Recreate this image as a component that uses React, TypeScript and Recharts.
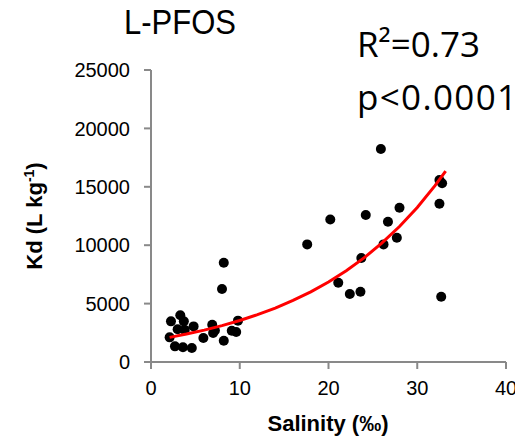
import React from "react";
import { ScatterChart, Scatter, XAxis, YAxis } from "recharts";

const salinity = [
  2.1, 2.25, 2.7, 3.0, 3.3, 3.6, 3.7, 3.8, 4.6, 4.8, 5.9, 6.9, 7.0, 7.2, 8.0, 8.2, 8.2, 9.1, 9.6, 9.8,
  17.6, 20.2, 21.1, 22.4, 23.6, 23.7, 24.2, 25.9, 26.2, 26.7, 27.7, 28.0, 32.5, 32.8, 32.5, 32.7,
];
const kd = [
  2110, 3480, 1340, 2800, 4000, 1260, 3480, 2750, 1200, 3050, 2050, 3190, 2480, 2700, 6250, 8500, 1820, 2680, 2570, 3540,
  10070, 12200, 6790, 5820, 6020, 8900, 12590, 18236, 10070, 12010, 10640, 13210, 15580, 15300, 13550, 5590,
];

const fitX = [2.1, 4, 6, 8, 10, 12, 14, 16, 18, 20, 22, 24, 26, 28, 30, 32, 33.2];
const fitY = [2110, 2390, 2730, 3110, 3550, 4050, 4620, 5270, 6010, 6850, 7820, 8910, 10170, 11600, 13230, 15100, 16350];

const xTicks = [0, 10, 20, 30, 40];
const yTicks = [0, 5000, 10000, 15000, 20000, 25000];

const points = salinity.map((x, i) => ({ x, y: kd[i] }));
const fit = fitX.map((x, i) => ({ x, y: fitY[i] }));

const W = 515;
const H = 430;
const AXIS = "#898989";
const tickStyle = { fontFamily: "Liberation Sans, Arial, sans-serif", fontSize: 20, fill: "#000" };

export default function App() {
  return (
    <div style={{ position: "relative", width: W, height: H }}>
      <ScatterChart width={W} height={H} margin={{ top: 62, right: 17, bottom: 46, left: 83 }}>
        <XAxis
          type="number"
          dataKey="x"
          domain={[0, 40]}
          ticks={xTicks}
          interval={0}
          height={30}
          stroke={AXIS}
          strokeWidth={2}
          tickSize={7}
          tickMargin={12}
          tick={tickStyle}
          allowDataOverflow
        />
        <YAxis
          type="number"
          dataKey="y"
          domain={[0, 25000]}
          ticks={yTicks}
          interval={0}
          width={60}
          stroke={AXIS}
          strokeWidth={2}
          tickSize={7}
          tickMargin={14}
          tick={tickStyle}
          allowDataOverflow
        />
        <Scatter data={points} fill="#000" isAnimationActive={false} shape={(p: any) => <circle cx={p.cx} cy={p.cy} r={5} fill="#000" />} />
        <Scatter
          data={fit}
          isAnimationActive={false}
          line={{ stroke: "#ff0000", strokeWidth: 3 }}
          lineType="joint"
          shape={() => <g />}
        />
      </ScatterChart>
      <svg width={523} height={438} style={{ position: "absolute", left: -8, top: -8, pointerEvents: "none", overflow: "visible" }}>
        <text x={124} y={34} fontFamily="Liberation Sans, Arial, sans-serif" fontSize={35} textLength={112} lengthAdjust="spacingAndGlyphs" fill="#000">L-PFOS</text>
        <text x={357} y={57} fontFamily="Open Sans" fontSize={35} fill="#000">R²=0.73</text>
        <text x={357} y={110} fontFamily="Open Sans" fontSize={35} textLength={160} lengthAdjust="spacing" fill="#000">p&lt;0.0001</text>
        <text x={328} y={431} textAnchor="middle" fontFamily="Liberation Sans, Arial, sans-serif" fontWeight="bold" fontSize={22} fill="#000">Salinity (‰)</text>
        <text
          x={0}
          y={0}
          transform="translate(42,216) rotate(-90)"
          textAnchor="middle"
          fontFamily="Liberation Sans, Arial, sans-serif"
          fontWeight="bold"
          fontSize={22}
          fill="#000"
        >
          Kd (L kg<tspan dy={-8} fontSize={14}>-1</tspan><tspan dy={8}>)</tspan>
        </text>
      </svg>
    </div>
  );
}
